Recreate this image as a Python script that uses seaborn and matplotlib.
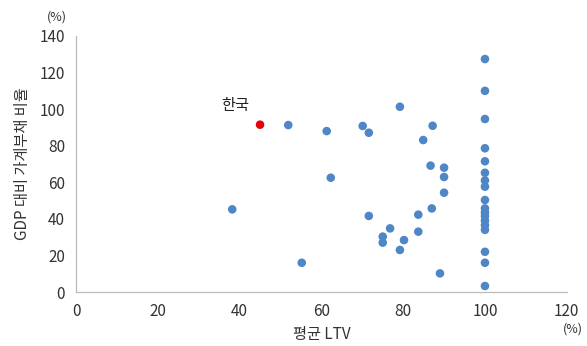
import numpy as np
import pandas as pd
import seaborn as sns
import matplotlib.pyplot as plt

# average LTV (%) vs household debt to GDP (%)
ltv = [100, 100, 100, 100, 100, 100, 100, 100, 100, 100, 100, 100, 100, 100, 100, 100, 100, 100,
       51.9, 61.3, 62.3, 70.1, 71.6, 71.6, 79.2, 87.2, 84.9, 86.7, 90.0, 90.0, 90.0, 87.0,
       83.7, 83.7, 76.8, 75.0, 75.0, 80.2, 79.2, 89.0, 55.2, 38.2]
debt = [127.4, 110, 94.6, 78.6, 71.5, 65.2, 61, 57.6, 50.3, 45.7, 43.5, 41.5, 39, 36.5, 34, 22, 16, 3.3,
        91.3, 88.0, 62.5, 90.8, 87.1, 41.6, 101.3, 90.9, 83.1, 69.1, 68.0, 62.9, 54.3, 45.7,
        42.3, 33.0, 34.8, 30.3, 27.0, 28.4, 23.0, 10.2, 16.0, 45.2]
korea_ltv = [45.0]
korea_debt = [91.5]

df = pd.DataFrame({'LTV': ltv, 'Debt': debt})
kr = pd.DataFrame({'LTV': korea_ltv, 'Debt': korea_debt})

sns.set_style('white')
plt.rcParams['font.family'] = ['Noto Sans CJK KR', 'DejaVu Sans']

fig = plt.figure(figsize=(5.87, 3.46), dpi=100)
ax = fig.add_axes([0.1295, 0.156, 0.836, 0.74])

sns.scatterplot(data=df, x='LTV', y='Debt', color='#4F86C6', s=38, edgecolor='none', ax=ax)
sns.scatterplot(data=kr, x='LTV', y='Debt', color='#E8000B', s=38, edgecolor='none', ax=ax)
ax.text(korea_ltv[0] - 6, korea_debt[0] + 6, '한국', fontsize=11, ha='center', va='bottom', color='#222222')

ax.set_xlim(0, 120)
ax.set_ylim(0, 140)
ax.set_xticks(range(0, 121, 20))
ax.set_yticks(range(0, 141, 20))
ax.tick_params(axis='both', length=0, labelsize=11, colors='#333333', pad=8)

for side in ['top', 'right']:
    ax.spines[side].set_visible(False)
for side in ['left', 'bottom']:
    ax.spines[side].set_color('#BBBBBB')
    ax.spines[side].set_linewidth(0.9)

ax.set_xlabel('평균 LTV', fontsize=11, color='#333333', labelpad=4)
ax.set_ylabel('GDP 대비 가계부채 비율', fontsize=11, color='#333333', labelpad=6)

fig.text(57 / 587, 1 - 17 / 346, '(%)', fontsize=9, ha='center', va='center', color='#333333')
fig.text(573 / 587, 1 - 329 / 346, '(%)', fontsize=9, ha='center', va='center', color='#333333')

fig.savefig('out.png', dpi=100)
